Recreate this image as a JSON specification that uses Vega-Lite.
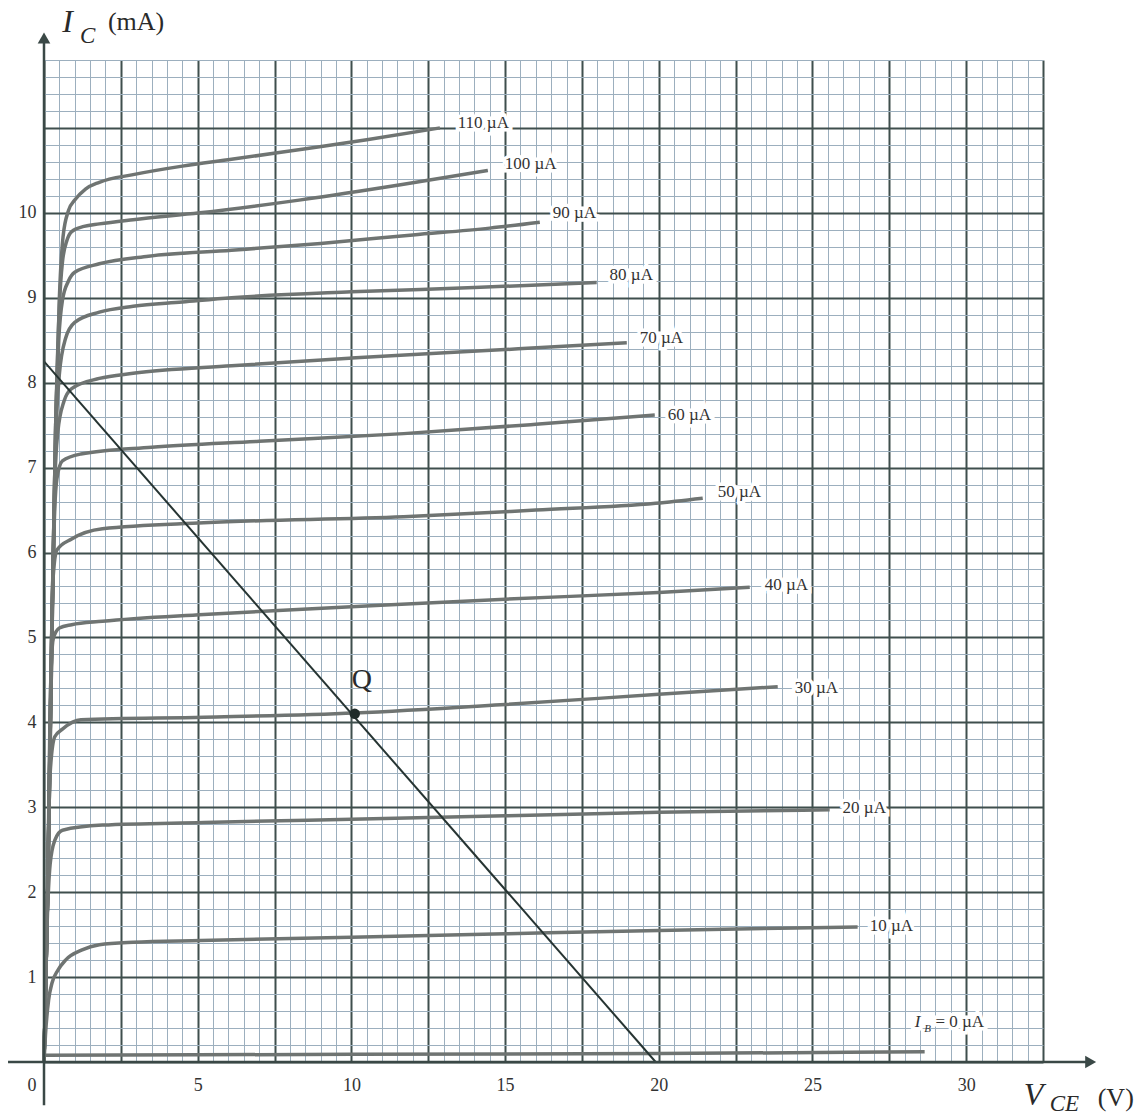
{
 "$schema": "https://vega.github.io/schema/vega-lite/v6.json",
 "width": 999, "height": 1002,
 "autosize": {"type": "none"},
 "padding": {"left": 44, "top": 60, "right": 95, "bottom": 57},
 "background": "white",
 "config": {"view": {"stroke": null}},
 "datasets": {
  "curves": [
   {"ib":110,"v":0,"i":0},{"ib":110,"v":0.12,"i":2},{"ib":110,"v":0.25,"i":5},{"ib":110,"v":0.38,"i":7.5},{"ib":110,"v":0.5,"i":9.0},{"ib":110,"v":0.62,"i":9.72},{"ib":110,"v":0.8,"i":10.03},{"ib":110,"v":1.0,"i":10.15},{"ib":110,"v":1.35,"i":10.28},{"ib":110,"v":1.8,"i":10.36},{"ib":110,"v":2.9,"i":10.45},{"ib":110,"v":4.5,"i":10.55},{"ib":110,"v":6.1,"i":10.63},{"ib":110,"v":8.4,"i":10.75},{"ib":110,"v":10.5,"i":10.86},{"ib":110,"v":12.88,"i":11.0},
   {"ib":100,"v":0,"i":0},{"ib":100,"v":0.12,"i":2},{"ib":100,"v":0.25,"i":5},{"ib":100,"v":0.38,"i":7.5},{"ib":100,"v":0.5,"i":8.9},{"ib":100,"v":0.6,"i":9.42},{"ib":100,"v":0.75,"i":9.68},{"ib":100,"v":0.9,"i":9.78},{"ib":100,"v":1.3,"i":9.84},{"ib":100,"v":1.8,"i":9.87},{"ib":100,"v":2.9,"i":9.92},{"ib":100,"v":5.07,"i":10.0},{"ib":100,"v":8.3,"i":10.15},{"ib":100,"v":11.6,"i":10.33},{"ib":100,"v":14.44,"i":10.5},
   {"ib":90,"v":0,"i":0},{"ib":90,"v":0.12,"i":2},{"ib":90,"v":0.25,"i":5},{"ib":90,"v":0.38,"i":7.5},{"ib":90,"v":0.48,"i":8.5},{"ib":90,"v":0.6,"i":8.97},{"ib":90,"v":0.8,"i":9.2},{"ib":90,"v":1.0,"i":9.3},{"ib":90,"v":1.8,"i":9.4},{"ib":90,"v":3.4,"i":9.49},{"ib":90,"v":6.1,"i":9.56},{"ib":90,"v":9,"i":9.64},{"ib":90,"v":12,"i":9.74},{"ib":90,"v":14.5,"i":9.82},{"ib":90,"v":16.13,"i":9.89},
   {"ib":80,"v":0,"i":0},{"ib":80,"v":0.12,"i":2},{"ib":80,"v":0.25,"i":5},{"ib":80,"v":0.38,"i":7.3},{"ib":80,"v":0.5,"i":8.1},{"ib":80,"v":0.7,"i":8.52},{"ib":80,"v":1.0,"i":8.71},{"ib":80,"v":1.8,"i":8.83},{"ib":80,"v":2.9,"i":8.9},{"ib":80,"v":4.5,"i":8.95},{"ib":80,"v":6.1,"i":9.0},{"ib":80,"v":10,"i":9.07},{"ib":80,"v":14,"i":9.12},{"ib":80,"v":17.98,"i":9.18},
   {"ib":70,"v":0,"i":0},{"ib":70,"v":0.12,"i":2},{"ib":70,"v":0.25,"i":4.8},{"ib":70,"v":0.35,"i":6.8},{"ib":70,"v":0.45,"i":7.42},{"ib":70,"v":0.65,"i":7.78},{"ib":70,"v":0.9,"i":7.93},{"ib":70,"v":1.8,"i":8.05},{"ib":70,"v":2.9,"i":8.11},{"ib":70,"v":6.1,"i":8.2},{"ib":70,"v":10,"i":8.29},{"ib":70,"v":15,"i":8.39},{"ib":70,"v":18.96,"i":8.47},
   {"ib":60,"v":0,"i":0},{"ib":60,"v":0.12,"i":2},{"ib":60,"v":0.25,"i":4.8},{"ib":60,"v":0.33,"i":6.3},{"ib":60,"v":0.42,"i":6.87},{"ib":60,"v":0.6,"i":7.08},{"ib":60,"v":1.2,"i":7.16},{"ib":60,"v":3.5,"i":7.24},{"ib":60,"v":7,"i":7.31},{"ib":60,"v":11.7,"i":7.4},{"ib":60,"v":16,"i":7.51},{"ib":60,"v":19.87,"i":7.62},
   {"ib":50,"v":0,"i":0},{"ib":50,"v":0.12,"i":2},{"ib":50,"v":0.22,"i":4.5},{"ib":50,"v":0.3,"i":5.72},{"ib":50,"v":0.42,"i":6.03},{"ib":50,"v":0.9,"i":6.16},{"ib":50,"v":1.9,"i":6.28},{"ib":50,"v":5.2,"i":6.35},{"ib":50,"v":11.7,"i":6.42},{"ib":50,"v":16,"i":6.5},{"ib":50,"v":19.9,"i":6.58},{"ib":50,"v":21.43,"i":6.64},
   {"ib":40,"v":0,"i":0},{"ib":40,"v":0.12,"i":2},{"ib":40,"v":0.2,"i":4.2},{"ib":40,"v":0.3,"i":4.98},{"ib":40,"v":0.5,"i":5.11},{"ib":40,"v":0.9,"i":5.15},{"ib":40,"v":1.9,"i":5.19},{"ib":40,"v":5.2,"i":5.27},{"ib":40,"v":10,"i":5.36},{"ib":40,"v":15,"i":5.45},{"ib":40,"v":20,"i":5.53},{"ib":40,"v":22.96,"i":5.59},
   {"ib":30,"v":0,"i":0},{"ib":30,"v":0.1,"i":1.8},{"ib":30,"v":0.2,"i":3.4},{"ib":30,"v":0.35,"i":3.83},{"ib":30,"v":0.6,"i":3.92},{"ib":30,"v":1.2,"i":4.03},{"ib":30,"v":5.2,"i":4.06},{"ib":30,"v":10.11,"i":4.11},{"ib":30,"v":15,"i":4.21},{"ib":30,"v":20,"i":4.33},{"ib":30,"v":23.87,"i":4.42},
   {"ib":20,"v":0,"i":0},{"ib":20,"v":0.1,"i":1.6},{"ib":20,"v":0.2,"i":2.33},{"ib":20,"v":0.35,"i":2.61},{"ib":20,"v":0.6,"i":2.73},{"ib":20,"v":1.9,"i":2.79},{"ib":20,"v":5.2,"i":2.82},{"ib":20,"v":10,"i":2.86},{"ib":20,"v":15,"i":2.9},{"ib":20,"v":20,"i":2.94},{"ib":20,"v":25.56,"i":2.97},
   {"ib":10,"v":0,"i":0},{"ib":10,"v":0.05,"i":0.33},{"ib":10,"v":0.15,"i":0.73},{"ib":10,"v":0.26,"i":0.93},{"ib":10,"v":0.45,"i":1.08},{"ib":10,"v":0.7,"i":1.2},{"ib":10,"v":1.24,"i":1.32},{"ib":10,"v":1.8,"i":1.38},{"ib":10,"v":2.9,"i":1.41},{"ib":10,"v":5.1,"i":1.43},{"ib":10,"v":10,"i":1.47},{"ib":10,"v":15,"i":1.51},{"ib":10,"v":20,"i":1.55},{"ib":10,"v":26.47,"i":1.59},
   {"ib":0,"v":0,"i":0.08},{"ib":0,"v":10,"i":0.09},{"ib":0,"v":20,"i":0.1},{"ib":0,"v":28.65,"i":0.12}
  ],
  "load": [{"v":0,"i":8.25},{"v":19.9,"i":0}],
  "q": [{"v":10.11,"i":4.1}],
  "qlabel": [{"v":10.34,"i":4.5,"t":"Q"}],
  "labels": [
   {"v":13.46,"i":11.06,"t":"110 µA"},
   {"v":14.99,"i":10.57,"t":"100 µA"},
   {"v":16.55,"i":10.0,"t":"90 µA"},
   {"v":18.4,"i":9.27,"t":"80 µA"},
   {"v":19.38,"i":8.53,"t":"70 µA"},
   {"v":20.29,"i":7.62,"t":"60 µA"},
   {"v":21.92,"i":6.71,"t":"50 µA"},
   {"v":23.45,"i":5.62,"t":"40 µA"},
   {"v":24.42,"i":4.41,"t":"30 µA"},
   {"v":25.98,"i":2.99,"t":"20 µA"},
   {"v":26.86,"i":1.6,"t":"10 µA"},
   {"v":29.0,"i":0.47,"t":"= 0 µA"}
  ],
  "ibI": [{"v":28.33,"i":0.47,"t":"I"}],
  "ibB": [{"v":28.64,"i":0.39,"t":"B"}],
  "yaxis": [{"v":0,"i":-0.51,"i2":12.0}],
  "xaxis": [{"v":-1.17,"v2":34.0,"i":0}],
  "arrowUp": [{"v":0,"i":12.06}],
  "arrowRight": [{"v":34.05,"i":0}],
  "titleMain": [{"v":0.59,"i":12.25,"t":"I"},{"v":31.87,"i":-0.39,"t":"V"}],
  "titleSub": [{"v":1.17,"i":12.08,"t":"C"},{"v":32.72,"i":-0.5,"t":"CE"}],
  "titleUnit": [{"v":2.08,"i":12.25,"t":"(mA)"},{"v":34.28,"i":-0.42,"t":"(V)"}]
 },
 "encoding": {
  "x": {"field":"v","type":"quantitative","scale":{"domain":[0,32.5],"nice":false,"zero":false},
   "axis":{"values":[0,0.5,1,1.5,2,2.5,3,3.5,4,4.5,5,5.5,6,6.5,7,7.5,8,8.5,9,9.5,10,10.5,11,11.5,12,12.5,13,13.5,14,14.5,15,15.5,16,16.5,17,17.5,18,18.5,19,19.5,20,20.5,21,21.5,22,22.5,23,23.5,24,24.5,25,25.5,26,26.5,27,27.5,28,28.5,29,29.5,30,30.5,31,31.5,32,32.5],
    "grid":true,"domain":false,"ticks":false,"title":null,"labelOverlap":false,"labelFlush":false,
    "labelFont":"Liberation Serif","labelFontSize":18,"labelColor":"#333333","labelPadding":14,
    "labelExpr":"datum.value % 5 === 0 ? format(datum.value,'d') : ''",
    "labelAlign":{"condition":{"test":"datum.value === 0","value":"right"},"value":"center"},
    "labelOffset":{"condition":{"test":"datum.value === 0","value":-8},"value":0},
    "gridColor":{"condition":{"test":"datum.value % 2.5 === 0","value":"#3f4f4d"},"value":"#9cafbe"},
    "gridWidth":{"condition":{"test":"datum.value % 2.5 === 0","value":2},"value":1}}},
  "y": {"field":"i","type":"quantitative","scale":{"domain":[0,11.8],"nice":false,"zero":false},
   "axis":{"values":[0,0.2,0.4,0.6,0.8,1,1.2,1.4,1.6,1.8,2,2.2,2.4,2.6,2.8,3,3.2,3.4,3.6,3.8,4,4.2,4.4,4.6,4.8,5,5.2,5.4,5.6,5.8,6,6.2,6.4,6.6,6.8,7,7.2,7.4,7.6,7.8,8,8.2,8.4,8.6,8.8,9,9.2,9.4,9.6,9.8,10,10.2,10.4,10.6,10.8,11,11.2,11.4,11.6,11.8],
    "grid":true,"domain":false,"ticks":false,"title":null,"labelOverlap":false,"labelFlush":false,
    "labelFont":"Liberation Serif","labelFontSize":18,"labelColor":"#333333","labelPadding":8,
    "labelExpr":"datum.value % 1 === 0 && datum.value >= 1 && datum.value <= 10 ? format(datum.value,'d') : ''",
    "gridColor":{"condition":{"test":"datum.value % 1 === 0","value":"#3f4f4d"},"value":"#9cafbe"},
    "gridWidth":{"condition":{"test":"datum.value % 1 === 0","value":2},"value":1}}}
 },
 "layer": [
  {"data":{"name":"curves"},"mark":{"type":"line","interpolate":"monotone","color":"#6f7472","strokeWidth":3.5},
   "encoding":{"detail":{"field":"ib","type":"nominal"}}},
  {"data":{"name":"load"},"mark":{"type":"line","color":"#263432","strokeWidth":2}},
  {"data":{"name":"yaxis"},"mark":{"type":"rule","color":"#3a4846","strokeWidth":2.5},
   "encoding":{"y2":{"field":"i2"}}},
  {"data":{"name":"xaxis"},"mark":{"type":"rule","color":"#3a4846","strokeWidth":2.5},
   "encoding":{"x2":{"field":"v2"}}},
  {"data":{"name":"arrowUp"},"mark":{"type":"point","shape":"triangle-up","filled":true,"color":"#3a4846","size":160,"opacity":1}},
  {"data":{"name":"arrowRight"},"mark":{"type":"point","shape":"triangle-right","filled":true,"color":"#3a4846","size":160,"opacity":1}},
  {"data":{"name":"q"},"mark":{"type":"point","shape":"circle","filled":true,"color":"#1f2b29","size":110,"opacity":1}},
  {"data":{"name":"qlabel"},"mark":{"type":"text","font":"Liberation Serif","fontSize":28,"color":"#2a2a2a","align":"center","baseline":"middle"},
   "encoding":{"text":{"field":"t"}}},
  {"data":{"name":"labels"},"mark":{"type":"text","font":"Liberation Serif","fontSize":17,"align":"left","baseline":"middle","stroke":"white","strokeWidth":7,"fill":"white"},
   "encoding":{"text":{"field":"t"}}},
  {"data":{"name":"ibI"},"mark":{"type":"text","font":"Liberation Serif","fontSize":17,"fontStyle":"italic","align":"left","baseline":"middle","stroke":"white","strokeWidth":7,"fill":"white"},
   "encoding":{"text":{"field":"t"}}},
  {"data":{"name":"labels"},"mark":{"type":"text","font":"Liberation Serif","fontSize":17,"align":"left","baseline":"middle","color":"#333333"},
   "encoding":{"text":{"field":"t"}}},
  {"data":{"name":"ibI"},"mark":{"type":"text","font":"Liberation Serif","fontSize":17,"fontStyle":"italic","align":"left","baseline":"middle","color":"#333333"},
   "encoding":{"text":{"field":"t"}}},
  {"data":{"name":"ibB"},"mark":{"type":"text","font":"Liberation Serif","fontSize":11,"fontStyle":"italic","align":"left","baseline":"middle","color":"#333333"},
   "encoding":{"text":{"field":"t"}}},
  {"data":{"name":"titleMain"},"mark":{"type":"text","font":"Liberation Serif","fontSize":32,"fontStyle":"italic","align":"left","baseline":"middle","color":"#2a2a2a"},
   "encoding":{"text":{"field":"t"}}},
  {"data":{"name":"titleSub"},"mark":{"type":"text","font":"Liberation Serif","fontSize":23,"fontStyle":"italic","align":"left","baseline":"middle","color":"#2a2a2a"},
   "encoding":{"text":{"field":"t"}}},
  {"data":{"name":"titleUnit"},"mark":{"type":"text","font":"Liberation Serif","fontSize":26,"align":"left","baseline":"middle","color":"#2a2a2a"},
   "encoding":{"text":{"field":"t"}}}
 ]
}
